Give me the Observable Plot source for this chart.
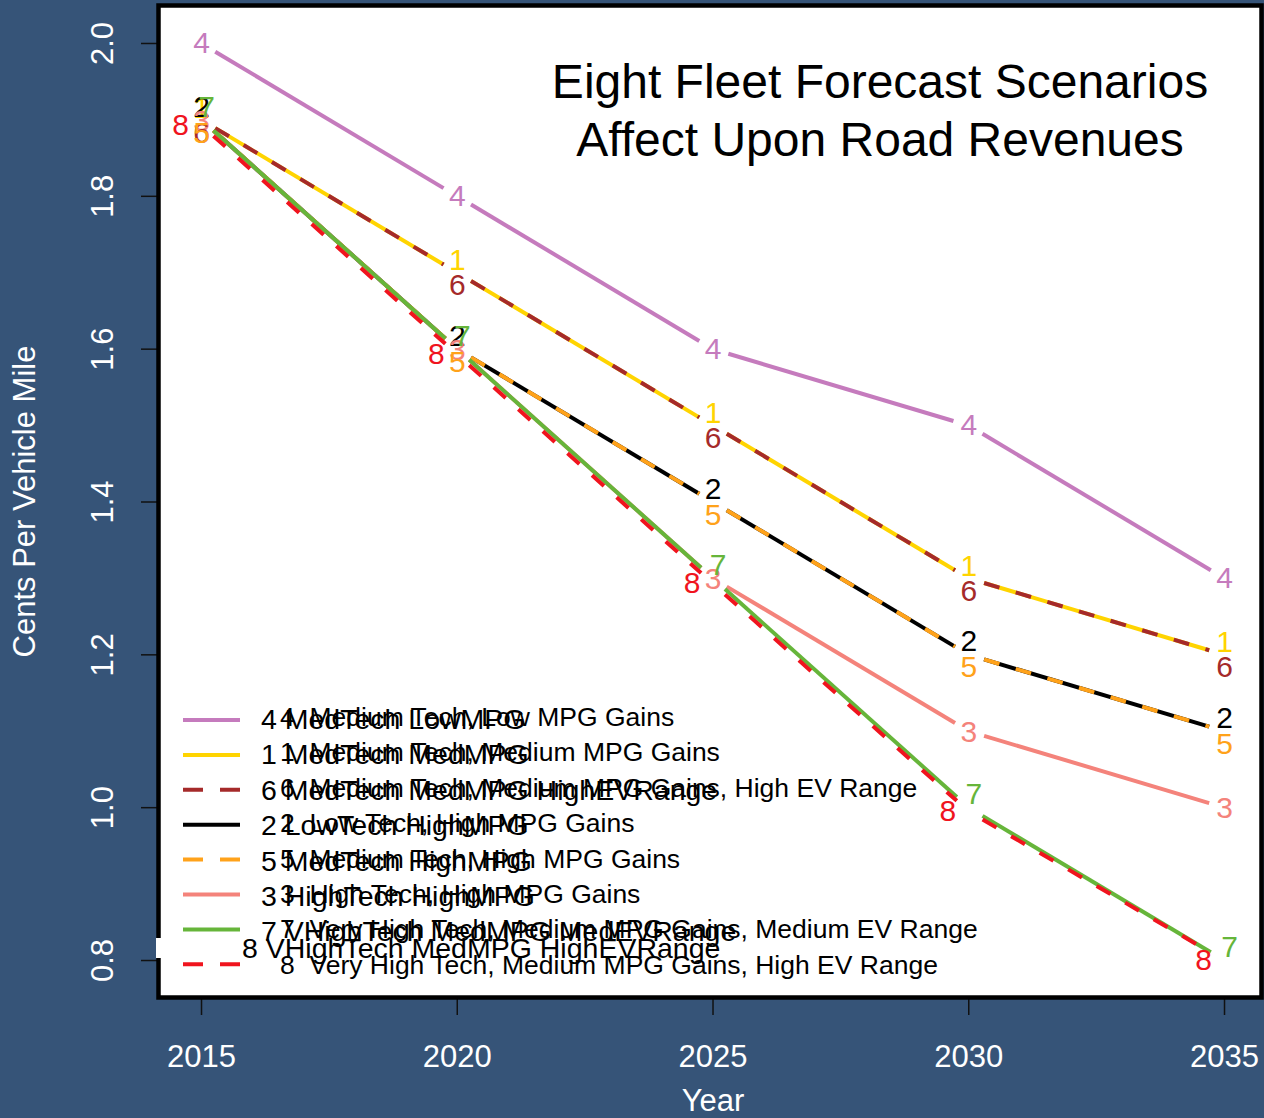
<!DOCTYPE html>
<html>
<head>
<meta charset="utf-8">
<script src="https://cdn.jsdelivr.net/npm/d3@7"></script>
<script src="https://cdn.jsdelivr.net/npm/@observablehq/plot@0.6"></script>
<style>
  html, body { margin: 0; padding: 0; background: #365478; }
  #chart { width: 1264px; height: 1118px; overflow: hidden; }
</style>
</head>
<body>
<div id="chart"></div>
<script>
// ---------------- DATA ----------------
const years = [2015, 2020, 2025, 2030, 2035];
const seriesIds = ["1", "2", "3", "4", "5", "6", "7", "8"];
const values1 = [1.90, 1.70, 1.50, 1.30, 1.20];
const values2 = [1.90, 1.60, 1.40, 1.20, 1.10];
const values3 = [1.90, 1.60, 1.30, 1.10, 1.00];
const values4 = [2.00, 1.80, 1.60, 1.50, 1.30];
const values5 = [1.90, 1.60, 1.40, 1.20, 1.10];
const values6 = [1.90, 1.70, 1.50, 1.30, 1.20];
const values7 = [1.90, 1.60, 1.30, 1.00, 0.80];
const values8 = [1.893, 1.593, 1.293, 0.995, 0.80];
const longNames = [
  "1  Medium Tech, Medium MPG Gains",
  "2  Low Tech, High MPG Gains",
  "3  High Tech, High MPG Gains",
  "4  Medium Tech, Low MPG Gains",
  "5  Medium Tech, High MPG Gains",
  "6  Medium Tech, Medium MPG Gains, High EV Range",
  "7  Very High Tech, Medium MPG Gains, Medium EV Range",
  "8  Very High Tech, Medium MPG Gains, High EV Range"
];
const shortNames = [
  "1 MedTech MedMPG",
  "2 LowTech HighMPG",
  "3 HighTech HighMPG",
  "4 MedTech LowMPG",
  "5 MedTech HighMPG",
  "6 MedTech MedMPG HighEVRange",
  "7 VHighTech MedMPG MedEVRange",
  "8 VHighTech MedMPG HighEVRange"
];
const legendOrder = ["4", "1", "6", "2", "5", "3", "7", "8"];
const labelOrder = ["1", "2", "3", "4", "6", "5", "7", "8"];
const xTicks = [2015, 2020, 2025, 2030, 2035];
const yTicks = [0.8, 1.0, 1.2, 1.4, 1.6, 1.8, 2.0];
const titleLines = ["Eight Fleet Forecast Scenarios", "Affect Upon Road Revenues"];
const xLabel = "Year";
const yLabel = "Cents Per Vehicle Mile";

// ---------------- STYLE ----------------
const seriesValues = [values1, values2, values3, values4, values5, values6, values7, values8];
const style = {
  "1": {color: "#ffd400", dash: null,    dx: 0,   dy: -12},
  "2": {color: "#000000", dash: null,    dx: 0,   dy: -13},
  "3": {color: "#f4837b", dash: null,    dx: 0,   dy: 1},
  "4": {color: "#c57bbd", dash: null,    dx: 0,   dy: 0},
  "5": {color: "#ffa21a", dash: "16,17", dx: 0,   dy: 13},
  "6": {color: "#a52a2a", dash: "16,17", dx: 0,   dy: 13},
  "7": {color: "#66b53a", dash: null,    dx: 5,   dy: -13},
  "8": {color: "#f0141e", dash: "16,17", dx: -21, dy: 0}
};
const FONT = "'Liberation Sans', Arial, Helvetica, sans-serif";
const centered = {textAnchor: "middle", lineAnchor: "middle", fontFamily: FONT};

// derived tables
const segments = [];
const points = [];
seriesIds.forEach((id, k) => {
  const v = seriesValues[k];
  years.forEach((yr, i) => {
    points.push({id, year: yr, value: v[i]});
    if (i < years.length - 1) segments.push({id, x1: yr, y1: v[i], x2: years[i + 1], y2: v[i + 1]});
  });
});

const lineMarks = seriesIds.map(id => Plot.arrow(segments.filter(s => s.id === id), {
  x1: "x1", y1: "y1", x2: "x2", y2: "y2",
  stroke: style[id].color, strokeWidth: 4, strokeDasharray: style[id].dash,
  strokeLinecap: "butt", headLength: 0, bend: 0, inset: 16
}));
const labelMarks = labelOrder.map(id => Plot.text(points.filter(p => p.id === id), {
  x: "year", y: "value", text: "id", fill: style[id].color,
  fontSize: 30, ...centered, dx: style[id].dx, dy: style[id].dy
}));

const svg = Plot.plot({
  width: 1264, height: 1118,
  marginLeft: 158, marginRight: 3, marginTop: 5, marginBottom: 121,
  style: {background: "#365478", fontFamily: FONT, color: "black"},
  x: {domain: [2014.159, 2035.723]},
  y: {domain: [0.7516, 2.0497]},
  marks: [
    Plot.frame({fill: "white", stroke: null}),
    ...lineMarks,
    ...labelMarks,
    Plot.axisX({ticks: xTicks, tickSize: 18, stroke: "#111", strokeWidth: 1.5, fill: null, label: null}),
    Plot.axisY({ticks: yTicks, tickSize: 17, stroke: "#111", strokeWidth: 1.5, fill: null, label: null}),
    Plot.text(xTicks, {x: d => d, text: d => String(d), frameAnchor: "bottom", dy: 60, fill: "white", fontSize: 31, ...centered}),
    Plot.text(yTicks, {y: d => d, text: d => d.toFixed(1), frameAnchor: "left", dx: -55, rotate: -90, fill: "white", fontSize: 31, ...centered}),
    Plot.text([xLabel], {text: d => d, frameAnchor: "bottom", dx: 3, dy: 104, fill: "white", fontSize: 31, ...centered}),
    Plot.text([yLabel], {text: d => d, frameAnchor: "left", dx: -133, rotate: -90, fill: "white", fontSize: 31, ...centered}),
    Plot.text([titleLines[0]], {text: d => d, frameAnchor: "top", dx: 170, dy: 77, fill: "black", fontSize: 48, ...centered}),
    Plot.text([titleLines[1]], {text: d => d, frameAnchor: "top", dx: 170, dy: 135, fill: "black", fontSize: 48, ...centered}),
    Plot.frame({stroke: "black", strokeWidth: 4.5, fill: null})
  ]
});

// ---------------- LEGEND (two overlapping legends, as in the original) ----------------
const lg = {lineX1: 183, lineX2: 240, lineY0: 720, lineStep: 34.9,
            longX: 280, longY0: 726, longStep: 35.4, longSize: 26.5,
            shortX: 261, shortY0: 729, shortStep: 35.4, shortSize: 28.5,
            lastShortX: 242, lastShortY: 958};
const g = d3.select(svg).append("g")
  .attr("font-family", FONT).attr("text-anchor", "start");
g.append("rect").attr("x", 156).attr("y", 938).attr("width", 7).attr("height", 20).attr("fill", "white");
legendOrder.forEach((id, i) => {
  const k = seriesIds.indexOf(id);
  const ly = lg.lineY0 + i * lg.lineStep;
  g.append("line")
    .attr("x1", lg.lineX1).attr("x2", lg.lineX2).attr("y1", ly).attr("y2", ly)
    .attr("stroke", style[id].color).attr("stroke-width", 4)
    .attr("stroke-dasharray", style[id].dash ? "20,17" : null);
  g.append("text")
    .attr("x", lg.longX).attr("y", lg.longY0 + i * lg.longStep)
    .attr("font-size", lg.longSize).attr("fill", "black").attr("text-anchor", "start")
    .style("white-space", "pre")
    .text(longNames[k]);
  const last = i === legendOrder.length - 1;
  g.append("text")
    .attr("x", last ? lg.lastShortX : lg.shortX)
    .attr("y", last ? lg.lastShortY : lg.shortY0 + i * lg.shortStep)
    .attr("font-size", lg.shortSize).attr("fill", "black").attr("text-anchor", "start")
    .text(shortNames[k]);
});

document.getElementById("chart").appendChild(svg);
</script>
</body>
</html>
